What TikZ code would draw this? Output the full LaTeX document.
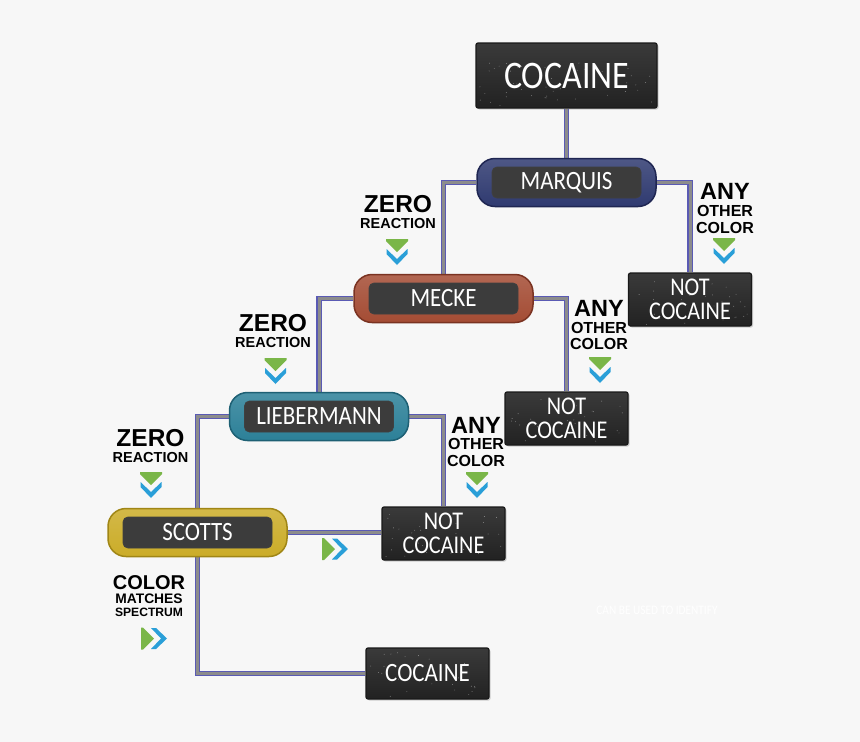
\documentclass[tikz,border=0pt]{standalone}
\usepackage{fontspec}
\setmainfont{Liberation Sans}
\newfontfamily\boxfont[FakeStretch=0.87]{Carlito}
\usetikzlibrary{shadows,calc}
\pgfdeclarelayer{bg}
\pgfdeclarelayer{lines}
\pgfsetlayers{bg,lines,main}
\definecolor{bgcol}{HTML}{F7F7F7}
\definecolor{boxtop}{HTML}{3A3A3A}
\definecolor{boxbot}{HTML}{222222}
\definecolor{pillinner}{HTML}{3C3C3C}
\definecolor{conblue}{HTML}{5A5AB4}
\definecolor{congray}{HTML}{8C8C8C}
\definecolor{chevgreen}{HTML}{7AB648}
\definecolor{chevblue}{HTML}{2A9FD8}
\definecolor{navy}{HTML}{2F3A70}
\definecolor{navyd}{HTML}{1F2652}
\definecolor{rust}{HTML}{A44C34}
\definecolor{rustd}{HTML}{7A3322}
\definecolor{teal}{HTML}{2C8098}
\definecolor{teald}{HTML}{1E6074}
\definecolor{mustard}{HTML}{CBAC28}
\definecolor{mustardd}{HTML}{A08616}
\tikzset{
  darkbox/.style={rectangle, rounded corners=2pt, draw=black!90, line width=1.2pt,
    top color=boxtop, bottom color=boxbot, text=white, align=center, inner sep=0pt,
    minimum width=123pt, minimum height=53pt,
    font=\boxfont\fontsize{25.5}{24}\selectfont,
    drop shadow={shadow xshift=1.5pt, shadow yshift=-1.5pt, opacity=0.35}},
  pill/.style={rectangle, rounded corners=18pt, minimum width=179pt, minimum height=48pt,
    line width=1.5pt, inner sep=0pt},
  pillin/.style={rectangle, rounded corners=5pt, minimum width=149pt, minimum height=31pt,
    fill=pillinner, draw=black!75, line width=0.8pt, text=white, inner sep=0pt,
    font=\boxfont\fontsize{26.4}{26}\selectfont},
  conn/.style={draw=conblue, line width=1.3pt, double=congray, double distance=3pt},
  lbig/.style={inner sep=0pt, font=\bfseries\fontsize{24.5}{24}\selectfont},
  lsmall/.style={inner sep=0pt, font=\bfseries\fontsize{14.5}{14}\selectfont},
  lany/.style={inner sep=0pt, font=\bfseries\fontsize{23.5}{24}\selectfont},
  lmid/.style={inner sep=0pt, font=\bfseries\fontsize{16}{16}\selectfont},
  chevdown/.pic={
    \fill[chevblue] (-10.5,10) -- (0,20) -- (10.5,10) -- (10.5,15) -- (0,26) -- (-10.5,15) -- cycle;
    \fill[chevgreen] (-11,0) -- (11,0) -- (11,2) -- (0,13) -- (-11,2) -- cycle;
  },
  chevright/.pic={
    \fill[chevblue] (10,-10.5) -- (20,0) -- (10,10.5) -- (15,10.5) -- (26,0) -- (15,-10.5) -- cycle;
    \fill[chevgreen] (0,-11) -- (0,11) -- (2,11) -- (13,0) -- (2,-11) -- cycle;
  }
}
\newcommand{\myspeckle}[3]{%
  \foreach \k in {1,...,#3} {
    \fill[white, opacity=0.45] ($(#1.south west)+({2+rnd*(#2-4)},{-2-rnd*45})$) circle (0.45pt);
  }%
}
\begin{document}
\begin{tikzpicture}[x=1pt, y=-1pt]
\pgfmathsetseed{42}
\begin{pgfonlayer}{bg}
  \fill[bgcol] (0,0) rectangle (860,742);
\end{pgfonlayer}
\useasboundingbox (0,0) rectangle (860,742);

% dark boxes
\node[darkbox, minimum width=181pt, minimum height=65pt, font=\boxfont\fontsize{39}{40}\selectfont] (ctop) at (566.5,75.5) {COCAINE};
\node[darkbox] (not1) at (690,299.5) {NOT\\COCAINE};
\node[darkbox] (not2) at (566.5,418.5) {NOT\\COCAINE};
\node[darkbox] (not3) at (443.5,533.5) {NOT\\COCAINE};
\node[darkbox, minimum height=51pt, font=\boxfont\fontsize{26.4}{26}\selectfont] (cbot) at (427.5,673.5) {COCAINE};

\myspeckle{ctop}{181}{45}
\myspeckle{not1}{123}{30}
\myspeckle{not2}{123}{30}
\myspeckle{not3}{123}{30}
\myspeckle{cbot}{123}{30}

% pills
\node[pill, draw=navyd, top color=navy!85!white, bottom color=navy] (marq) at (566.5,182.5) {};
\node[pillin] (marqt) at (marq) {MARQUIS};
\node[pill, draw=rustd, top color=rust!85!white, bottom color=rust] (mecke) at (443.5,298.5) {};
\node[pillin] (meckt) at (mecke) {MECKE};
\node[pill, draw=teald, top color=teal!85!white, bottom color=teal] (lieb) at (319,416.5) {};
\node[pillin] (liebt) at (lieb) {LIEBERMANN};
\node[pill, draw=mustardd, top color=mustard!85!white, bottom color=mustard] (scotts) at (197.5,532.5) {};
\node[pillin] (scottt) at (scotts) {SCOTTS};

% connectors
\begin{pgfonlayer}{lines}
  \draw[conn] (ctop) -- (marq);
  \draw[conn] (marq.west) -| (mecke.north);
  \draw[conn] (marq.east) -| (not1.north);
  \draw[conn] (mecke.west) -| (lieb.north);
  \draw[conn] (mecke.east) -| (not2.north);
  \draw[conn] (lieb.west) -| (scotts.north);
  \draw[conn] (lieb.east) -| (not3.north);
  \draw[conn] (scotts.east) -- (scotts.east -| not3.west);
  \draw[conn] (scotts.south) |- (cbot.west);
\end{pgfonlayer}

% labels: zero reaction
\node[lbig] (z1a) at (398,204.5) {ZERO};
\node[lsmall] (z1b) at (398,223.5) {REACTION};
\pic at (397,239) {chevdown};
\node[lbig] (z2a) at (273,323.5) {ZERO};
\node[lsmall] (z2b) at (273,342.5) {REACTION};
\pic at (275.5,358) {chevdown};
\node[lbig] (z3a) at (150.5,438.5) {ZERO};
\node[lsmall] (z3b) at (150.5,457.5) {REACTION};
\pic at (151,472) {chevdown};

% labels: any other color
\node[lany] (a1a) at (725,191.5) {ANY};
\node[lmid] (a1b) at (725,211) {OTHER};
\node[lmid] (a1c) at (725,227.5) {COLOR};
\pic at (724,238) {chevdown};
\node[lany] (a2a) at (599,308.5) {ANY};
\node[lmid] (a2b) at (599,327.5) {OTHER};
\node[lmid] (a2c) at (599,344) {COLOR};
\pic at (600,357) {chevdown};
\node[lany] (a3a) at (476,425) {ANY};
\node[lmid] (a3b) at (476,444) {OTHER};
\node[lmid] (a3c) at (476,461) {COLOR};
\pic at (477,472) {chevdown};

% scotts right chevron
\pic at (322,549) {chevright};

% color matches spectrum
\node[inner sep=0pt, font=\bfseries\fontsize{20}{20}\selectfont] (cm1) at (149,583) {COLOR};
\node[inner sep=0pt, font=\bfseries\fontsize{13.8}{14}\selectfont] (cm2) at (149,599) {MATCHES};
\node[inner sep=0pt, font=\bfseries\fontsize{12.1}{12}\selectfont] (cm3) at (149,612) {SPECTRUM};
\pic at (141,638.5) {chevright};

% faint text
\node[inner sep=0pt, text=white, font=\boxfont\fontsize{13}{13}\selectfont] (faint) at (657,610) {CAN BE USED TO IDENTIFY};
\end{tikzpicture}
\end{document}
